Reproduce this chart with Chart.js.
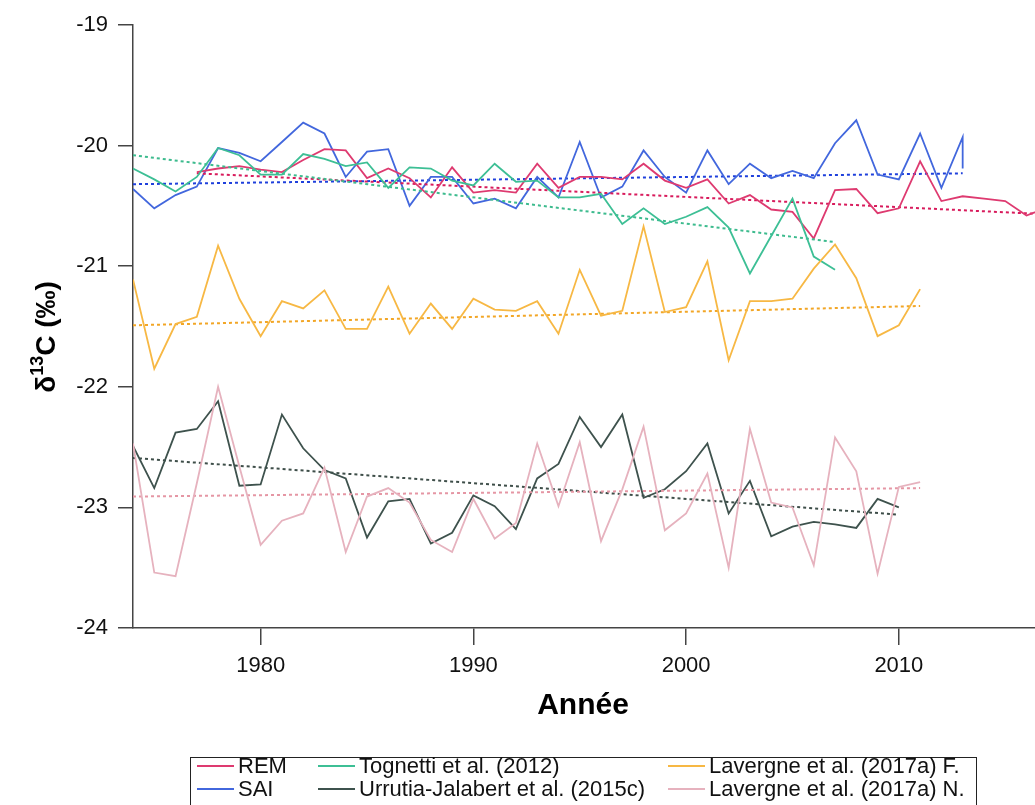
<!DOCTYPE html>
<html>
<head>
<meta charset="utf-8">
<script src="https://cdn.jsdelivr.net/npm/chart.js@4.4.1/dist/chart.umd.min.js"></script>
<style>
  html, body { margin: 0; background: #fff; }
  #wrap { width: 1035px; height: 805px; position: relative; }
</style>
</head>
<body>
<div id="wrap"><canvas id="c"></canvas></div>
<script>
// years helper for consecutive annual series
function span(a, b) { const out = []; for (let y = a; y <= b; y++) out.push(y); return out; }

// δ13C series (‰)
const remYears = span(1977, 2017);
const remVals = [-20.22, -20.19, -20.17, -20.20, -20.22, -20.12, -20.03, -20.04, -20.27, -20.19,
  -20.27, -20.43, -20.18, -20.39, -20.37, -20.39, -20.15, -20.35, -20.26, -20.26,
  -20.28, -20.15, -20.29, -20.35, -20.28, -20.48, -20.41, -20.53, -20.55, -20.77,
  -20.37, -20.36, -20.56, -20.52, -20.13, -20.46, -20.42, -20.44, -20.46, -20.58, -20.51];

const saiYears = span(1974, 2013).concat([2013]);
const saiVals = [-20.36, -20.52, -20.41, -20.34, -20.02, -20.06, -20.13, -19.97, -19.81, -19.90,
  -20.26, -20.05, -20.03, -20.50, -20.26, -20.26, -20.48, -20.44, -20.52, -20.26,
  -20.43, -19.97, -20.43, -20.34, -20.04, -20.26, -20.39, -20.04, -20.32, -20.15,
  -20.27, -20.21, -20.27, -19.98, -19.79, -20.24, -20.28, -19.90, -20.35, -19.93, -20.19];

const tognettiYears = span(1974, 2007);
const tognettiVals = [-20.19, -20.28, -20.38, -20.26, -20.02, -20.08, -20.24, -20.24, -20.07, -20.11,
  -20.17, -20.14, -20.35, -20.18, -20.19, -20.29, -20.33, -20.15, -20.30, -20.29,
  -20.43, -20.43, -20.40, -20.65, -20.52, -20.65, -20.59, -20.51, -20.68, -21.06,
  -20.75, -20.44, -20.92, -21.03];

const lavFYears = span(1974, 2011);
const lavFVals = [-21.11, -21.85, -21.48, -21.42, -20.83, -21.27, -21.58, -21.29, -21.35, -21.20,
  -21.52, -21.52, -21.17, -21.56, -21.31, -21.52, -21.27, -21.36, -21.37, -21.29,
  -21.56, -21.03, -21.41, -21.37, -20.67, -21.38, -21.34, -20.96, -21.78, -21.29,
  -21.29, -21.27, -21.02, -20.82, -21.10, -21.58, -21.49, -21.19];

const urrutiaYears = span(1974, 2010);
const urrutiaVals = [-22.49, -22.84, -22.38, -22.35, -22.12, -22.82, -22.81, -22.23, -22.51, -22.69,
  -22.76, -23.25, -22.95, -22.93, -23.30, -23.21, -22.90, -22.99, -23.18, -22.76,
  -22.64, -22.25, -22.50, -22.23, -22.92, -22.85, -22.70, -22.47, -23.05, -22.78,
  -23.24, -23.16, -23.12, -23.14, -23.17, -22.93, -23.00];

const lavNYears = span(1974, 2011);
const lavNVals = [-22.47, -23.54, -23.57, -22.80, -22.00, -22.66, -23.31, -23.11, -23.05, -22.67,
  -23.37, -22.91, -22.84, -22.96, -23.27, -23.37, -22.93, -23.26, -23.13, -22.47,
  -22.99, -22.46, -23.28, -22.85, -22.33, -23.19, -23.05, -22.72, -23.50, -22.35,
  -22.96, -23.00, -23.48, -22.42, -22.70, -23.55, -22.83, -22.79];

// linear trends: [first year, last year] and fitted values at those years
const remTrendYears = [1977, 2017], remTrendVals = [-20.23, -20.57];
const saiTrendYears = [1974, 2013], saiTrendVals = [-20.32, -20.23];
const tognettiTrendYears = [1974, 2007], tognettiTrendVals = [-20.08, -20.80];
const lavFTrendYears = [1974, 2011], lavFTrendVals = [-21.49, -21.33];
const urrutiaTrendYears = [1974, 2010], urrutiaTrendVals = [-22.59, -23.06];
const lavNTrendYears = [1974, 2011], lavNTrendVals = [-22.91, -22.84];

const xTicks = [1980, 1990, 2000, 2010];
const yTicks = [-24, -23, -22, -21, -20, -19];

const labels = ['REM', 'SAI', 'Tognetti et al. (2012)', 'Urrutia-Jalabert et al. (2015c)',
  'Lavergne et al. (2017a) F.', 'Lavergne et al. (2017a) N.'];

const pts = (xs, ys) => xs.map((x, i) => ({ x: x, y: ys[i] }));

function serie(label, xs, ys, color) {
  return { label: label, data: pts(xs, ys), borderColor: color, borderWidth: 1.8,
    pointRadius: 0, tension: 0, fill: false };
}
function trend(xs, ys, color) {
  return { label: '', data: pts(xs, ys), borderColor: color, borderWidth: 2,
    borderDash: [3, 3], pointRadius: 0, fill: false, trend: true };
}

const datasets = [
  serie(labels[5], lavNYears, lavNVals, '#e6b2be'),
  trend(lavNTrendYears, lavNTrendVals, '#e596a4'),
  serie(labels[3], urrutiaYears, urrutiaVals, '#3e524d'),
  trend(urrutiaTrendYears, urrutiaTrendVals, '#3e4e49'),
  serie(labels[4], lavFYears, lavFVals, '#f7b844'),
  trend(lavFTrendYears, lavFTrendVals, '#f2a626'),
  serie(labels[2], tognettiYears, tognettiVals, '#3dbf95'),
  trend(tognettiTrendYears, tognettiTrendVals, '#3dbb8e'),
  serie(labels[0], remYears, remVals, '#de3a70'),
  trend(remTrendYears, remTrendVals, '#d81b5c'),
  serie(labels[1], saiYears, saiVals, '#4267dd'),
  trend(saiTrendYears, saiTrendVals, '#1f40dc')
];

const FONT = '"Liberation Sans", Arial, sans-serif';

// axis titles (the y one has a superscript) and the boxed 3-column legend
const extras = {
  id: 'extras',
  afterDraw(chart) {
    const ctx = chart.ctx;
    ctx.save();
    ctx.fillStyle = '#000';
    ctx.textBaseline = 'alphabetic';

    // x title
    ctx.font = 'bold 30px ' + FONT;
    ctx.textAlign = 'center';
    ctx.fillText('Année', 583, 714);

    // y title
    ctx.translate(55, 337);
    ctx.rotate(-Math.PI / 2);
    const big = 'bold 28px ' + FONT;
    const small = 'bold 18px ' + FONT;
    ctx.font = big; const w1 = ctx.measureText('δ').width;
    ctx.font = small; const w2 = ctx.measureText('13').width;
    ctx.font = big; const w3 = ctx.measureText('C (‰)').width;
    const x0 = -(w1 + w2 + w3) / 2;
    ctx.textAlign = 'left';
    ctx.font = big; ctx.fillText('δ', x0, 0);
    ctx.font = small; ctx.fillText('13', x0 + w1, -12);
    ctx.font = big; ctx.fillText('C (‰)', x0 + w1 + w2, 0);
    ctx.restore();

    // legend
    const byLabel = {};
    chart.data.datasets.filter(d => !d.trend).forEach(d => { byLabel[d.label] = d.borderColor; });
    const cols = [197, 318, 668];
    const rows = [766, 789];
    const order = [[labels[0], labels[2], labels[4]], [labels[1], labels[3], labels[5]]];
    ctx.save();
    ctx.strokeStyle = '#222';
    ctx.lineWidth = 1;
    ctx.strokeRect(190.5, 757.5, 786, 60);
    ctx.font = '22px ' + FONT;
    ctx.textBaseline = 'middle';
    ctx.textAlign = 'left';
    order.forEach((row, r) => {
      row.forEach((lab, c) => {
        const x = cols[c], y = rows[r];
        ctx.strokeStyle = byLabel[lab];
        ctx.lineWidth = 2;
        ctx.beginPath(); ctx.moveTo(x, y); ctx.lineTo(x + 37, y); ctx.stroke();
        ctx.fillStyle = '#111';
        ctx.fillText(lab, x + 41, y + 1);
      });
    });
    ctx.restore();
  }
};

new Chart(document.getElementById('c'), {
  type: 'line',
  data: { datasets: datasets },
  plugins: [extras],
  options: {
    responsive: true,
    maintainAspectRatio: false,
    animation: false,
    devicePixelRatio: 1,
    layout: { padding: { top: 25, right: 0, left: 0, bottom: 0 } },
    plugins: { legend: { display: false }, tooltip: { enabled: false } },
    scales: {
      x: {
        type: 'linear', min: 1974, max: 2016.4,
        afterBuildTicks: s => { s.ticks = xTicks.map(v => ({ value: v })); },
        afterFit: s => { s.height = 177; },
        ticks: { color: '#111', font: { size: 22, family: FONT },
          padding: 8, maxRotation: 0, autoSkip: false, callback: v => String(v) },
        grid: { drawOnChartArea: false, tickLength: 17, color: '#444', lineWidth: 1.5 },
        border: { color: '#444', width: 1.5 }
      },
      y: {
        min: -24, max: -19,
        afterBuildTicks: s => { s.ticks = yTicks.map(v => ({ value: v })); },
        afterFit: s => { s.width = 133; },
        ticks: { color: '#111', font: { size: 22, family: FONT },
          padding: 10, callback: v => String(v) },
        grid: { drawOnChartArea: false, tickLength: 15, color: '#444', lineWidth: 1.5 },
        border: { color: '#444', width: 1.5 }
      }
    }
  }
});
</script>
</body>
</html>
